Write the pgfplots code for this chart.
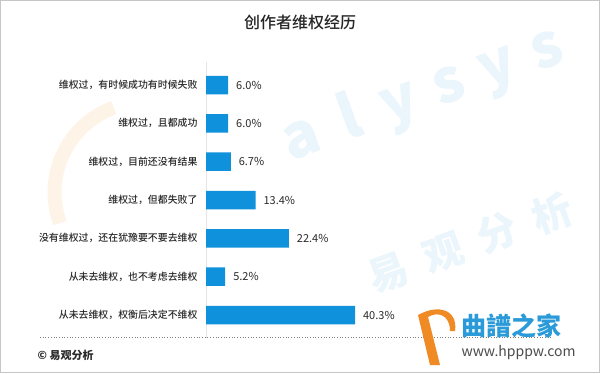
\documentclass[border=0pt]{standalone}
\usepackage{fontspec}
\usepackage{pgfplots}
\pgfplotsset{compat=1.18}
\setmainfont{Noto Sans CJK SC}
\newfontfamily\cjkm{Noto Sans CJK SC Medium}
\definecolor{barblue}{HTML}{0F91DC}
\definecolor{txt}{HTML}{2A2A2A}
\definecolor{wm}{HTML}{EAF5FC}
\definecolor{wmo}{HTML}{FDF3E6}
\definecolor{logoor}{HTML}{F08A24}
\definecolor{logobl}{HTML}{2A9AD8}
\begin{document}
\begin{tikzpicture}[x=1pt,y=1pt]
\fill[white] (0pt,0pt) rectangle (600pt,373pt);
% watermarks
\draw[wmo, line width=14pt] (60pt,150pt) arc[start angle=200, end angle=110, radius=90pt];
\begin{scope}[every node/.style={rotate=20, anchor=base, text=wm, font=\fontsize{60}{60}\selectfont\bfseries, inner sep=0pt}]
\node at (308pt,218pt) {a};
\node at (357pt,236pt) {l};
\node at (406pt,254pt) {y};
\node at (455pt,272pt) {s};
\node at (504pt,290pt) {y};
\node at (553pt,307pt) {s};
\end{scope}
\begin{scope}[every node/.style={rotate=20, text=wm, font=\fontsize{40}{40}\selectfont\bfseries, inner sep=0pt}]
\node at (388pt,100pt) {易};
\node at (443pt,120pt) {观};
\node at (497pt,140pt) {分};
\node at (552pt,160pt) {析};
\end{scope}
\draw[gray!45, line width=1pt] (0.5pt,0.5pt) rectangle (599.5pt,372.5pt);
\node[font=\fontsize{16}{16}\selectfont\cjkm, text=black!85] at (300pt,351pt) {创作者维权经历};
\begin{axis}[
  at={(206pt,35pt)}, anchor=south west, scale only axis,
  width=185pt, height=276pt,
  xmin=0, xmax=50, ymin=-0.6, ymax=6.6,
  xbar, bar width=18.5pt,
  axis x line=none, axis y line*=left,
  y axis line style={draw=gray!20, -},
  ytick={0,...,6}, major tick length=0pt,
  yticklabels={{从未去维权，权衡后决定不维权},{从未去维权，也不考虑去维权},{没有维权过，还在犹豫要不要去维权},{维权过，但都失败了},{维权过，目前还没有结果},{维权过，且都成功},{维权过，有时候成功有时候失败}},
  yticklabel style={font=\fontsize{9.9}{10}\selectfont\cjkm, text=txt, xshift=-5pt},
  clip=false,
  /pgf/number format/assume math mode=true,
  nodes near coords={\pgfmathprintnumber[fixed,fixed zerofill,precision=1]{\pgfplotspointmeta}\%},
  nodes near coords align=horizontal,
  every node near coord/.append style={anchor=west, xshift=4.5pt, font=\fontsize{11}{11}\selectfont, text=txt},
]
\addplot[fill=barblue, draw=none] coordinates {(40.3,0) (5.2,1) (22.4,2) (13.4,3) (6.7,4) (6.0,5) (6.0,6)};
\end{axis}
\draw[gray, dotted, line width=0.7pt] (40pt,36pt) -- (553pt,36pt);
\node[anchor=west, font=\fontsize{11}{11}\selectfont\bfseries, text=txt] at (34pt,18pt) {© 易观分析};
% logo
\fill[logoor] (418pt,58pt) .. controls (440pt,70pt) and (458pt,62pt) .. (455pt,42pt) -- (450pt,42pt) .. controls (450pt,58pt) and (438pt,62pt) .. (428pt,56pt) -- (440pt,8pt) -- (430pt,8pt) -- cycle;
\node[anchor=west, text=logobl, font=\fontsize{25}{25}\selectfont\bfseries] at (458pt,47pt) {曲譜之家};
\node[anchor=west, text=black!70, font=\fontsize{14}{14}\selectfont] at (458pt,20pt) {www.hpppw.com};
\end{tikzpicture}
\end{document}
